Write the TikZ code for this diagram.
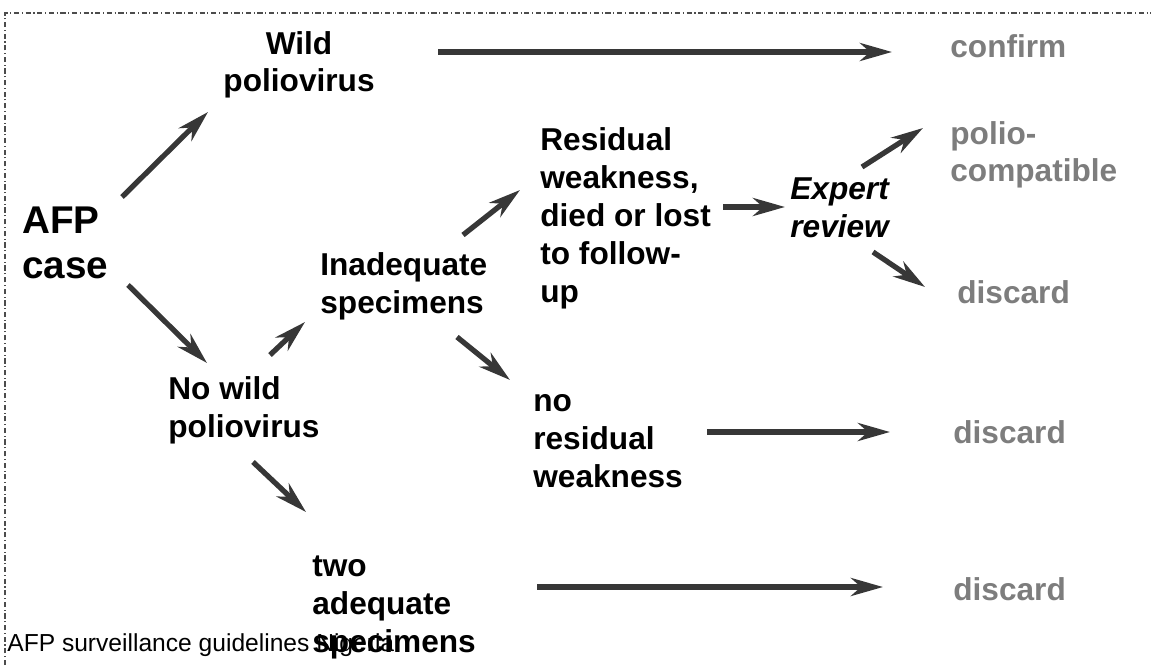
\documentclass[tikz,border=0pt]{standalone}
\usepackage{fontspec}
\setmainfont{Liberation Sans}
\usetikzlibrary{arrows.meta}

\definecolor{arrowgrey}{RGB}{55,55,55}
\definecolor{outgrey}{RGB}{125,125,125}

\begin{document}
\begin{tikzpicture}[
  x=0.02cm, y=-0.02cm,
  label/.style={inner sep=0pt, anchor=base west, align=left, font=\fontsize{18pt}{21.6pt}\selectfont\bfseries},
  outcome/.style={label, text=outgrey},
  arrow/.style={-{Stealth[length=6.4mm, width=3.6mm, inset=2mm]}, line width=3pt, draw=arrowgrey},
  frame/.style={draw=black!70, line width=0.6pt, dash pattern=on 3pt off 1.5pt on 0.6pt off 1.5pt}
]

\useasboundingbox (0,0) rectangle (1151,665);

% Frame
\draw[frame] (5,665) -- (5,13) -- (1151,13);

% Nodes (placed at the baseline of their last line)
\node[label, font=\fontsize{22pt}{25.6pt}\selectfont\bfseries] (afp) at (22,278) {AFP\\case};
\node[label, anchor=base, align=center] (wild) at (299,92) {Wild\\poliovirus};
\node[label] (nowild) at (168,437) {No wild\\poliovirus};
\node[label] (inadequate) at (320,313) {Inadequate\\specimens};
\node[label] (residual) at (540,302) {Residual\\weakness,\\died or lost\\to follow-\\up};
\node[label, font=\fontsize{18pt}{21.6pt}\selectfont\bfseries\itshape] (expert) at (790,237) {Expert\\review};
\node[label] (noresid) at (533,487) {no\\residual\\weakness};
\node[label] (twoadeq) at (312,652) {two\\adequate\\specimens};

\node[outcome] (confirm) at (950,58) {confirm};
\node[outcome] (compatible) at (950,182) {polio-\\compatible};
\node[outcome] (discardA) at (957,303) {discard};
\node[outcome] (discardB) at (953,443) {discard};
\node[outcome] (discardC) at (953,600) {discard};

\node[inner sep=0pt, anchor=base west, font=\fontsize{14pt}{16.8pt}\selectfont] (source) at (7,651) {AFP surveillance guidelines Nigeria};

% Arrow ends
\coordinate (wild-s) at (438,52);    \coordinate (wild-e) at (892,52);
\coordinate (afp-s1) at (122,197);   \coordinate (afp-e1) at (208,112);
\coordinate (afp-s2) at (128,285);   \coordinate (afp-e2) at (207,363);
\coordinate (nowild-s1) at (270,355); \coordinate (nowild-e1) at (305,322);
\coordinate (nowild-s2) at (253,462); \coordinate (nowild-e2) at (306,512);
\coordinate (inad-s1) at (463,235);  \coordinate (inad-e1) at (520,190);
\coordinate (inad-s2) at (457,337);  \coordinate (inad-e2) at (510,380);
\coordinate (resid-s) at (723,207);  \coordinate (resid-e) at (785,207);
\coordinate (expert-s1) at (862,167); \coordinate (expert-e1) at (923,128);
\coordinate (expert-s2) at (873,252); \coordinate (expert-e2) at (925,287);
\coordinate (noresid-s) at (707,432); \coordinate (noresid-e) at (890,432);
\coordinate (two-s) at (537,587);    \coordinate (two-e) at (883,587);

% Arrows
\draw[arrow] (wild-s) -- (wild-e);
\draw[arrow] (afp-s1) -- (afp-e1);
\draw[arrow] (afp-s2) -- (afp-e2);
\draw[arrow] (nowild-s1) -- (nowild-e1);
\draw[arrow] (nowild-s2) -- (nowild-e2);
\draw[arrow] (inad-s1) -- (inad-e1);
\draw[arrow] (inad-s2) -- (inad-e2);
\draw[arrow] (resid-s) -- (resid-e);
\draw[arrow] (expert-s1) -- (expert-e1);
\draw[arrow] (expert-s2) -- (expert-e2);
\draw[arrow] (noresid-s) -- (noresid-e);
\draw[arrow] (two-s) -- (two-e);

\end{tikzpicture}
\end{document}
